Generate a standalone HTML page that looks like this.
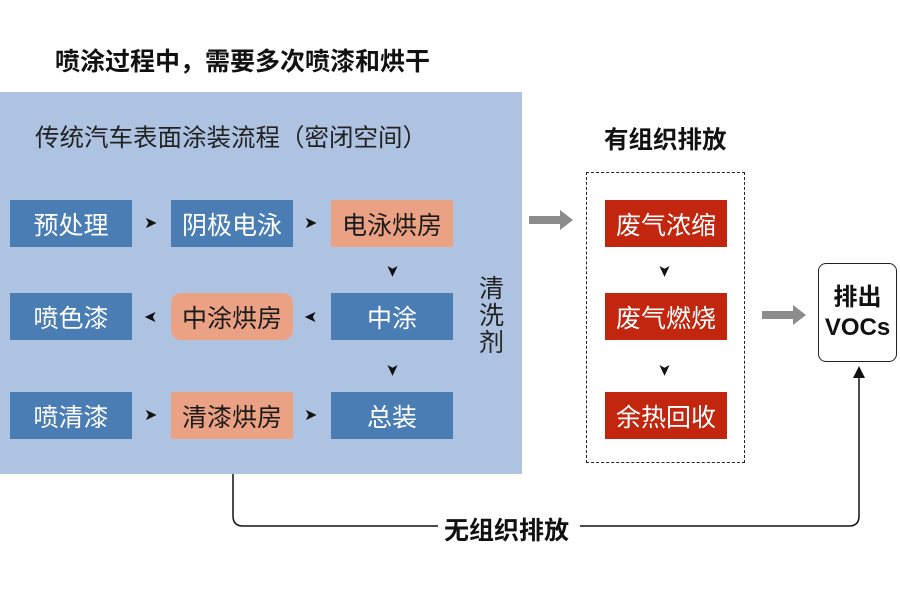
<!DOCTYPE html>
<html><head><meta charset="utf-8"><style>
body{margin:0;width:900px;height:600px;background:#fff;position:relative;overflow:hidden;font-family:"Liberation Sans","Noto Sans CJK SC",sans-serif}
.a{position:absolute}
.b{position:absolute;width:122px;height:47px;display:flex;align-items:center;justify-content:center;font-size:25px;color:#fff;background:#4a7db4}
.o{background:#eba184;color:#1a1a1a}
.r{background:#c2260e;color:#fff}
.t{position:absolute;font-size:16px;color:#111;line-height:16px}
</style></head><body>
<div class="a" style="left:55px;top:42px;font-size:25px;font-weight:bold;color:#111;white-space:nowrap">喷涂过程中，需要多次喷漆和烘干</div>
<div class="a" style="left:0;top:92px;width:522px;height:382px;background:#adc3e1"></div>
<div class="a" style="left:35px;top:119px;font-size:24.5px;color:#222;white-space:nowrap">传统汽车表面涂装流程（密闭空间）</div>
<div class="b" style="left:10px;top:200px">预处理</div>
<div class="b" style="left:171px;top:200px">阴极电泳</div>
<div class="b o" style="left:331px;top:200px">电泳烘房</div>
<div class="b" style="left:10px;top:293px">喷色漆</div>
<div class="b o" style="left:171px;top:293px;border-radius:10px">中涂烘房</div>
<div class="b" style="left:331px;top:293px">中涂</div>
<div class="b" style="left:10px;top:392px">喷清漆</div>
<div class="b o" style="left:171px;top:392px">清漆烘房</div>
<div class="b" style="left:331px;top:392px">总装</div>
<div class="t" style="left:144px;top:216px">➤</div>
<div class="t" style="left:304px;top:216px">➤</div>
<div class="t" style="left:144px;top:310px;transform:scaleX(-1)">➤</div>
<div class="t" style="left:304px;top:310px;transform:scaleX(-1)">➤</div>
<div class="t" style="left:144px;top:408px">➤</div>
<div class="t" style="left:304px;top:408px">➤</div>
<div class="t" style="left:385px;top:263px;transform:rotate(90deg)">➤</div>
<div class="t" style="left:385px;top:362px;transform:rotate(90deg)">➤</div>
<div class="a" style="left:479px;top:276px;font-size:25px;line-height:27px;width:26px;color:#222">清洗剂</div>
<div class="a" style="left:604px;top:121px;font-size:24.5px;font-weight:bold;color:#111;white-space:nowrap">有组织排放</div>
<div class="a" style="left:586px;top:172px;width:157px;height:289px;border:1px dashed #222"></div>
<div class="b r" style="left:605px;top:200px">废气浓缩</div>
<div class="b r" style="left:605px;top:293px">废气燃烧</div>
<div class="b r" style="left:605px;top:392px">余热回收</div>
<div class="t" style="left:657px;top:263px;transform:rotate(90deg)">➤</div>
<div class="t" style="left:657px;top:362px;transform:rotate(90deg)">➤</div>
<div class="a" style="left:818px;top:263px;width:77px;height:97px;border:1.5px solid #222;border-radius:8px;display:flex;align-items:center;justify-content:center;text-align:center;font-size:24px;font-weight:bold;line-height:30px;color:#111">排出<br>VOCs</div>
<svg class="a" style="left:0;top:0" width="900" height="600">
<polygon points="529,216 560,216 560,210 573,220 560,230 560,224 529,224" fill="#8c8c8c"/>
<polygon points="762,311 793,311 793,305 806,315 793,325 793,319 762,319" fill="#8c8c8c"/>
<path d="M233,474 V516 Q233,526 243,526 H438 M580,526 H849 Q859,526 859,516 V374" fill="none" stroke="#111" stroke-width="1.5"/>
<polygon points="853,378 859,366 865,378" fill="#111"/>
</svg>
<div class="a" style="left:444px;top:511px;font-size:25px;font-weight:bold;color:#111;white-space:nowrap">无组织排放</div>
</body></html>
